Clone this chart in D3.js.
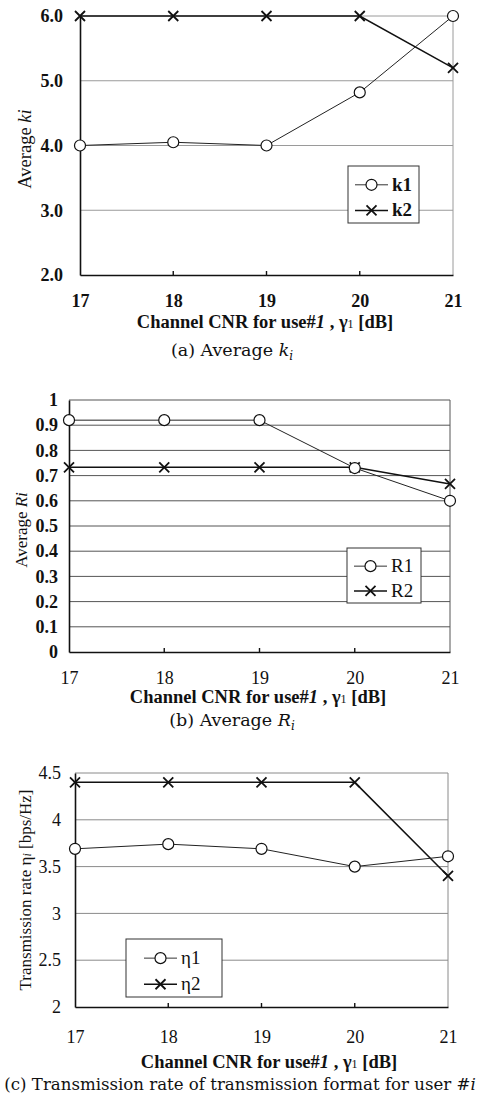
<!DOCTYPE html>
<html>
<head>
<meta charset="utf-8">
<script src="https://cdn.jsdelivr.net/npm/d3@7/dist/d3.min.js"></script>
<style>
  html, body { margin: 0; padding: 0; background: #fff; }
  svg { display: block; }
  text { font-family: "Liberation Serif", "Times New Roman", serif; fill: #111; }
</style>
</head>
<body>
<svg id="fig" width="481" height="1104"></svg>
<script>
// Channel CNR for user #1 (dB)
const cnr = [17, 18, 19, 20, 21];

// (a) average k_i
const k1 = [4.0, 4.05, 4.0, 4.82, 6.0];
const k2 = [6.0, 6.0, 6.0, 6.0, 5.2];
const kTicks = [2, 3, 4, 5, 6];

// (b) average code rate R_i
const r1 = [0.92, 0.92, 0.92, 0.73, 0.60];
const r2 = [0.733, 0.733, 0.733, 0.733, 0.667];
const rTicks = [0, 0.1, 0.2, 0.3, 0.4, 0.5, 0.6, 0.7, 0.8, 0.9, 1];

// (c) transmission rate eta_i
const eta1 = [3.69, 3.74, 3.69, 3.50, 3.61];
const eta2 = [4.4, 4.4, 4.4, 4.4, 3.4];
const etaTicks = [2, 2.5, 3, 3.5, 4, 4.5];

const svg = d3.select("#fig");

function panel(cfg) {
  const g = svg.append("g");
  const x = d3.scaleLinear().domain([17, 21]).range([cfg.x0, cfg.x1]);
  const y = d3.scaleLinear().domain(cfg.yDomain).range([cfg.yBottom, cfg.yTop]);

  // horizontal grid
  g.append("g").selectAll("line").data(cfg.yTicks.slice(1)).join("line")
    .attr("x1", cfg.x0).attr("x2", cfg.x1)
    .attr("y1", d => y(d)).attr("y2", d => y(d))
    .attr("stroke", cfg.gridColor).attr("stroke-width", 1);
  // right border
  g.append("line").attr("x1", cfg.x1).attr("x2", cfg.x1)
    .attr("y1", cfg.yTop).attr("y2", cfg.yBottom)
    .attr("stroke", cfg.gridColor).attr("stroke-width", 1);

  // y axis
  const yAxis = d3.axisLeft(y).tickValues(cfg.yTicks).tickFormat(cfg.yFormat).tickSize(0).tickPadding(cfg.yPad);
  const ya = g.append("g").attr("transform", `translate(${cfg.x0},0)`).call(yAxis);
  ya.select(".domain").attr("stroke", "#111").attr("stroke-width", 1.6);
  ya.selectAll("text").attr("font-size", 18).attr("font-weight", cfg.yTickBold ? "bold" : "normal")
    .style("font-family", "'Liberation Serif', serif").attr("fill", "#111");

  // x axis with inward ticks
  const xAxis = d3.axisBottom(x).tickValues(cnr).tickFormat(d3.format("d")).tickSize(0).tickPadding(cfg.xPad);
  const xa = g.append("g").attr("transform", `translate(0,${cfg.yBottom})`).call(xAxis);
  xa.select(".domain").attr("stroke", "#111").attr("stroke-width", 1.6);
  xa.selectAll("text").attr("font-size", 18).attr("font-weight", cfg.xTickBold ? "bold" : "normal")
    .style("font-family", "'Liberation Serif', serif").attr("fill", "#111");
  g.append("g").selectAll("line").data(cnr.slice(1, -1)).join("line")
    .attr("x1", d => x(d)).attr("x2", d => x(d))
    .attr("y1", cfg.yBottom).attr("y2", cfg.yBottom - 4)
    .attr("stroke", "#111").attr("stroke-width", 1.4);

  // series
  const line = d3.line().x((d, i) => x(cnr[i])).y(d => y(d));
  const sLine = cfg.series[0], xLine = cfg.series[1];
  g.append("path").datum(xLine.values).attr("d", line)
    .attr("fill", "none").attr("stroke", "#111").attr("stroke-width", 1.5);
  g.append("path").datum(sLine.values).attr("d", line)
    .attr("fill", "none").attr("stroke", "#222").attr("stroke-width", 1);

  const cross = (sel, cx, cy, s) => {
    sel.append("path")
      .attr("d", `M${cx - s},${cy - s}L${cx + s},${cy + s}M${cx - s},${cy + s}L${cx + s},${cy - s}`)
      .attr("stroke", "#111").attr("stroke-width", 1.8).attr("fill", "none");
  };
  xLine.values.forEach((v, i) => cross(g, x(cnr[i]), y(v), 5));
  g.append("g").selectAll("circle").data(sLine.values).join("circle")
    .attr("cx", (d, i) => x(cnr[i])).attr("cy", d => y(d)).attr("r", 5.5)
    .attr("fill", "#fff").attr("stroke", "#111").attr("stroke-width", 1.2);

  // legend
  const L = cfg.legend;
  g.append("rect").attr("x", L.x).attr("y", L.y).attr("width", L.w).attr("height", L.h)
    .attr("fill", "#fff").attr("stroke", "#333").attr("stroke-width", 1);
  const rows = [L.y + L.h * 0.33, L.y + L.h * 0.78];
  const lx0 = L.x + L.pad, lx1 = lx0 + 33, lc = (lx0 + lx1) / 2;
  g.append("line").attr("x1", lx0).attr("x2", lx1).attr("y1", rows[0]).attr("y2", rows[0])
    .attr("stroke", "#333").attr("stroke-width", 1);
  g.append("circle").attr("cx", lc).attr("cy", rows[0]).attr("r", 5.5)
    .attr("fill", "#fff").attr("stroke", "#111").attr("stroke-width", 1.2);
  g.append("line").attr("x1", lx0).attr("x2", lx1).attr("y1", rows[1]).attr("y2", rows[1])
    .attr("stroke", "#111").attr("stroke-width", 1.5);
  cross(g, lc, rows[1], 5);
  cfg.series.forEach((s, i) => {
    g.append("text").attr("x", lx1 + 4).attr("y", rows[i] + 6)
      .attr("font-size", 19).attr("font-weight", L.bold ? "bold" : "normal").text(s.name);
  });

  // axis titles
  const t = g.append("text").attr("x", cfg.titleX).attr("y", cfg.titleY)
    .attr("text-anchor", "middle").attr("font-size", 18.5).attr("font-weight", "bold");
  t.append("tspan").text("Channel CNR for use#");
  t.append("tspan").attr("font-style", "italic").text("1");
  t.append("tspan").text(" , γ");
  t.append("tspan").attr("font-size", 12).attr("font-weight", "normal").text("1");
  t.append("tspan").attr("font-weight", "bold").text(" [dB]");

  const yt = g.append("text")
    .attr("transform", `translate(${cfg.yTitleX},${cfg.yTitleY}) rotate(-90)`)
    .attr("text-anchor", "middle").attr("font-size", cfg.yTitleSize);
  cfg.yTitle(yt);

  const cap = g.append("text").attr("x", cfg.capX).attr("y", cfg.capY)
    .attr("text-anchor", "middle").attr("font-size", cfg.capSize)
    .style("font-family", "'DejaVu Serif', serif").style("font-weight", "200");
  cfg.caption(cap);
}

panel({
  x0: 80, x1: 453, yTop: 16, yBottom: 275, yDomain: [2, 6], yTicks: kTicks,
  yFormat: d3.format(".1f"), yPad: 17, xPad: 19, yTickBold: true, xTickBold: true, gridColor: "#9a9a9a",
  series: [{ name: "k1", values: k1 }, { name: "k2", values: k2 }],
  legend: { x: 348, y: 166, w: 71, h: 57, pad: 7, bold: true },
  titleX: 265, titleY: 328,
  yTitleX: 31, yTitleY: 149, yTitleSize: 18.5,
  yTitle: s => { s.append("tspan").text("Average "); s.append("tspan").attr("font-style", "italic").text("ki"); },
  capX: 232, capY: 356, capSize: 17.5,
  caption: s => { s.append("tspan").text("(a) Average "); s.append("tspan").attr("font-style", "italic").text("k");
                  s.append("tspan").attr("font-style", "italic").attr("font-size", 12).attr("dy", 4).text("i"); }
});

panel({
  x0: 69, x1: 450, yTop: 400, yBottom: 652, yDomain: [0, 1], yTicks: rTicks,
  yFormat: d => d === 0 || d === 1 ? d3.format("d")(d) : d3.format(".1f")(d), yPad: 11, xPad: 19, yTickBold: true, xTickBold: false, gridColor: "#555",
  series: [{ name: "R1", values: r1 }, { name: "R2", values: r2 }],
  legend: { x: 347, y: 548, w: 74, h: 55, pad: 7, bold: false },
  titleX: 258, titleY: 703,
  yTitleX: 27, yTitleY: 530, yTitleSize: 17,
  yTitle: s => { s.append("tspan").text("Average "); s.append("tspan").attr("font-style", "italic").text("Ri"); },
  capX: 232, capY: 726, capSize: 17.5,
  caption: s => { s.append("tspan").text("(b) Average "); s.append("tspan").attr("font-style", "italic").text("R");
                  s.append("tspan").attr("font-style", "italic").attr("font-size", 12).attr("dy", 4).text("i"); }
});

panel({
  x0: 75, x1: 448, yTop: 773, yBottom: 1007, yDomain: [2, 4.5], yTicks: etaTicks,
  yFormat: d => Number.isInteger(d) ? d3.format("d")(d) : d3.format(".1f")(d), yPad: 14, xPad: 23, yTickBold: false, xTickBold: false, gridColor: "#8a8a8a",
  series: [{ name: "η1", values: eta1 }, { name: "η2", values: eta2 }],
  legend: { x: 126, y: 939, w: 96, h: 58, pad: 18, bold: false },
  titleX: 269, titleY: 1068,
  yTitleX: 31, yTitleY: 890, yTitleSize: 17,
  yTitle: s => { s.append("tspan").text("Transmission rate η");
                 s.append("tspan").attr("font-style", "italic").attr("font-size", 12).text("i");
                 s.append("tspan").text(" [bps/Hz]"); },
  capX: 240, capY: 1090, capSize: 16.6,
  caption: s => { s.append("tspan").text("(c) Transmission rate of transmission format for user #");
                  s.append("tspan").attr("font-style", "italic").text("i"); }
});
</script>
</body>
</html>
